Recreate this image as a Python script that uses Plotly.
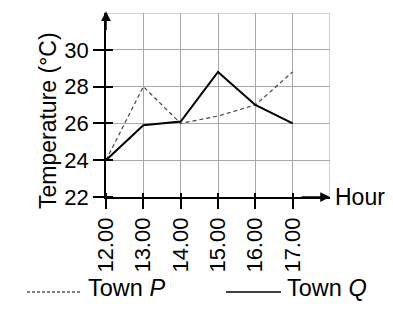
import plotly.graph_objects as go

hours = [12, 13, 14, 15, 16, 17]
hour_labels = ["12.00", "13.00", "14.00", "15.00", "16.00", "17.00"]
town_p = [24, 28, 26, 26.4, 27, 28.8]
town_q = [24, 25.9, 26.1, 28.8, 27, 26]
y_ticks = [22, 24, 26, 28, 30]

FONT = "Liberation Sans, Arial, sans-serif"
L, R, T, B = 106, 63, 13, 117
W, H = 393, 314
PW, PH = W - L - R, H - T - B

def px(x):
    return (x - L) / PW

def py(y):
    return (H - B - y) / PH

fig = go.Figure()
fig.add_trace(go.Scatter(x=hours, y=town_p, mode="lines",
                         line=dict(color="#444", width=1.2, dash="4px,3px"),
                         name="Town P", showlegend=False))
fig.add_trace(go.Scatter(x=hours, y=town_q, mode="lines",
                         line=dict(color="black", width=2),
                         name="Town Q", showlegend=False))

fig.update_layout(
    width=W, height=H,
    margin=dict(l=L, r=R, t=T, b=B),
    paper_bgcolor="white", plot_bgcolor="white",
    font=dict(family=FONT, color="black", size=22),
    xaxis=dict(range=[12, 18], tickvals=hours, ticktext=hour_labels,
               tickangle=-90, ticks="outside", ticklen=10, tickwidth=1.5,
               tickcolor="black", showgrid=True, gridcolor="#a8a8a8",
               gridwidth=1, showline=True, linecolor="black", linewidth=1.5,
               zeroline=False, tickfont=dict(size=22),
               minor=dict(tickmode="array", tickvals=hours, ticks="inside",
                          ticklen=4, tickwidth=1.5, tickcolor="black",
                          showgrid=False)),
    yaxis=dict(range=[22, 32], tickvals=y_ticks,
               ticks="outside", ticklen=11, tickwidth=1.5, tickcolor="black",
               showgrid=True, gridcolor="#a8a8a8", gridwidth=1,
               showline=True, linecolor="black", linewidth=1.5,
               zeroline=False, tickfont=dict(size=22),
               minor=dict(tickmode="array", tickvals=y_ticks, ticks="inside",
                          ticklen=7, tickwidth=1.5, tickcolor="black",
                          showgrid=False)),
)

# grid border lines at top and right
fig.add_shape(type="line", xref="x", yref="y", x0=12, x1=18, y0=32, y1=32,
              line=dict(color="#a8a8a8", width=1), layer="below")
fig.add_shape(type="line", xref="x", yref="y", x0=18, x1=18, y0=22, y1=32,
              line=dict(color="#a8a8a8", width=1), layer="below")

# axis arrows
fig.add_annotation(x=12, y=32.1, ax=12, ay=31, xref="x", yref="y",
                   axref="x", ayref="y", text="", showarrow=True,
                   arrowhead=2, arrowsize=1.3, arrowwidth=1.5, arrowcolor="black")
fig.add_annotation(x=18, y=22, ax=17.2, ay=22, xref="x", yref="y",
                   axref="x", ayref="y", text="", showarrow=True,
                   arrowhead=2, arrowsize=1.3, arrowwidth=1.5, arrowcolor="black")

fig.add_annotation(x=px(333), y=py(197), xref="paper", yref="paper",
                   text="Hour", showarrow=False, xanchor="left", yanchor="middle",
                   font=dict(size=23))
fig.add_annotation(x=px(48), y=py(120), xref="paper", yref="paper",
                   text="Temperature (°C)", showarrow=False, textangle=-90,
                   xanchor="center", yanchor="middle", font=dict(size=23))

# legend
fig.add_shape(type="line", xref="paper", yref="paper",
              x0=px(27), x1=px(81), y0=py(292), y1=py(292),
              line=dict(color="black", width=1, dash="3px,2px"))
fig.add_annotation(x=px(86), y=py(288), xref="paper", yref="paper",
                   text="Town <i>P</i>", showarrow=False, xanchor="left",
                   yanchor="middle", font=dict(size=23.5))
fig.add_shape(type="line", xref="paper", yref="paper",
              x0=px(226), x1=px(281), y0=py(292), y1=py(292),
              line=dict(color="black", width=1.5))
fig.add_annotation(x=px(285), y=py(288), xref="paper", yref="paper",
                   text="Town <i>Q</i>", showarrow=False, xanchor="left",
                   yanchor="middle", font=dict(size=23.5))

fig.write_html("out.html")
